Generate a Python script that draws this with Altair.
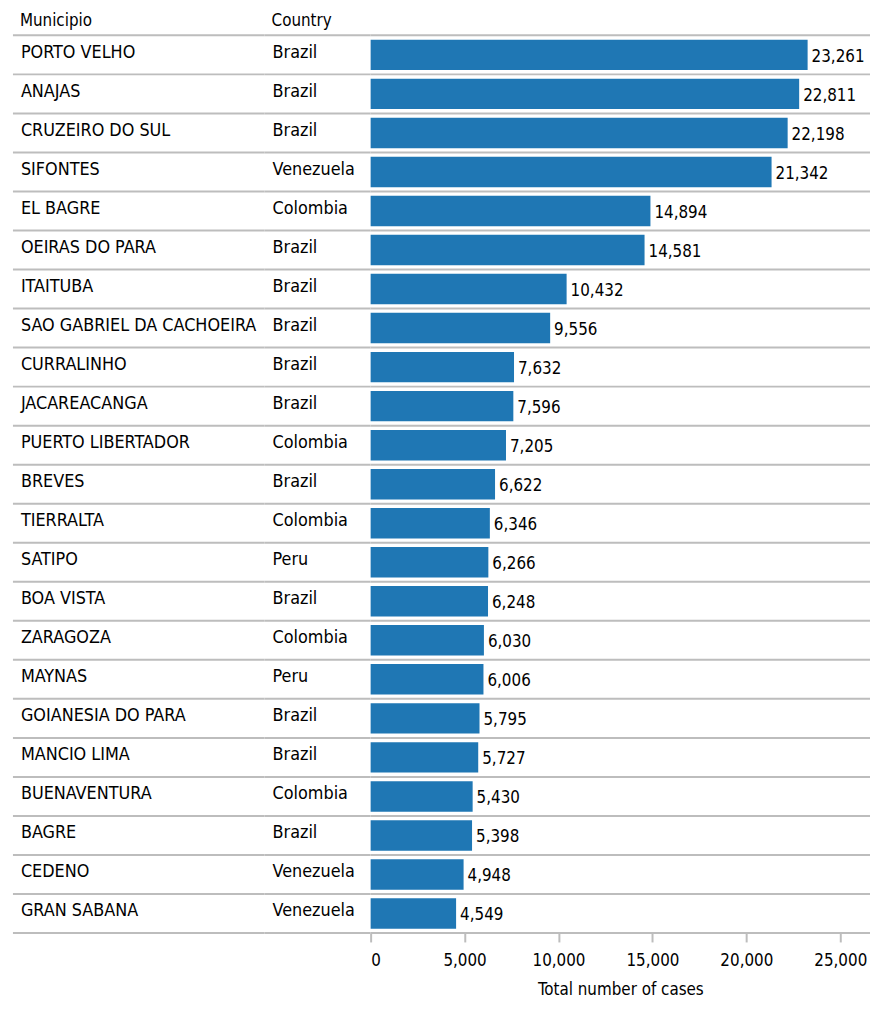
import altair as alt
import pandas as pd

municipios = ["PORTO VELHO", "ANAJAS", "CRUZEIRO DO SUL", "SIFONTES", "EL BAGRE",
              "OEIRAS DO PARA", "ITAITUBA", "SAO GABRIEL DA CACHOEIRA", "CURRALINHO",
              "JACAREACANGA", "PUERTO LIBERTADOR", "BREVES", "TIERRALTA", "SATIPO",
              "BOA VISTA", "ZARAGOZA", "MAYNAS", "GOIANESIA DO PARA", "MANCIO LIMA",
              "BUENAVENTURA", "BAGRE", "CEDENO", "GRAN SABANA"]
countries = ["Brazil", "Brazil", "Brazil", "Venezuela", "Colombia", "Brazil", "Brazil",
             "Brazil", "Brazil", "Brazil", "Colombia", "Brazil", "Colombia", "Peru",
             "Brazil", "Colombia", "Peru", "Brazil", "Brazil", "Colombia", "Brazil",
             "Venezuela", "Venezuela"]
cases = [23261, 22811, 22198, 21342, 14894, 14581, 10432, 9556, 7632, 7596, 7205,
         6622, 6346, 6266, 6248, 6030, 6006, 5795, 5727, 5430, 5398, 4948, 4549]
x_ticks = [0, 5000, 10000, 15000, 20000, 25000]

df = pd.DataFrame({"Municipio": municipios, "Country": countries, "Cases": cases})

FONT = "Liberation Sans Narrow, Arial Narrow, DejaVu Sans Condensed, sans-serif"
FS = 18
NFS = 17
RULE = "#bdbdbd"
H = 906

yscale = alt.Scale(domain=municipios, paddingInner=0, paddingOuter=0)


def rules(width):
    top = alt.Chart(df).mark_rule(color=RULE, strokeWidth=2).encode(
        y=alt.Y("Municipio:N", scale=yscale, axis=None, bandPosition=0),
        x=alt.value(0), x2=alt.value(width))
    bottom = alt.Chart(df).transform_filter(
        alt.datum.Municipio == municipios[-1]).mark_rule(color=RULE, strokeWidth=2).encode(
        y=alt.Y("Municipio:N", scale=yscale, axis=None, bandPosition=1),
        x=alt.value(0), x2=alt.value(width))
    return top + bottom


def text_col(field, width, header):
    t = alt.Chart(df).mark_text(align="left", baseline="middle", font=FONT,
                                fontSize=FS, color="black", dy=-2).encode(
        y=alt.Y("Municipio:N", scale=yscale, axis=None),
        x=alt.value(8),
        text=f"{field}:N")
    return (rules(width) + t).properties(
        width=width, height=H,
        title=alt.TitleParams(header, anchor="start", font=FONT, fontSize=17,
                              fontWeight="normal", color="black", dx=8, offset=4))


W3 = 504
xscale = alt.Scale(domain=[0, 26582], nice=False, zero=True)

bars = alt.Chart(df).mark_bar(color="#1f77b4", height=alt.RelativeBandSize(0.78)).encode(
    y=alt.Y("Municipio:N", scale=yscale,
            axis=alt.Axis(labels=False, ticks=False, title=None, domainColor=RULE,
                          domainWidth=2)),
    x=alt.X("Cases:Q", scale=xscale,
            axis=alt.Axis(values=x_ticks, format=",d", title="Total number of cases",
                          domain=False, grid=False, tickColor=RULE, tickWidth=2,
                          tickSize=9, labelFont=FONT, labelFontSize=NFS,
                          labelColor="black", labelPadding=11, titleFont=FONT,
                          titleFontSize=17, titleFontWeight="normal",
                          titleColor="black", titlePadding=13)),
)
labels = alt.Chart(df).mark_text(align="left", baseline="middle", font=FONT,
                                 fontSize=NFS, color="black", dx=4, dy=2).encode(
    y=alt.Y("Municipio:N", scale=yscale),
    x=alt.X("Cases:Q", scale=xscale),
    text=alt.Text("Cases:Q", format=",d"))

bar_panel = (rules(W3) + bars + labels).properties(width=W3, height=H)

chart = alt.hconcat(
    text_col("Municipio", 254, "Municipio"),
    text_col("Country", 107, "Country"),
    bar_panel,
    spacing=0, bounds="flush",
).properties(
    padding={"left": 4, "top": 0, "right": 0, "bottom": 0}
).configure_view(stroke=None)

chart.save("out.html", embed_options={"renderer": "svg", "actions": False})
